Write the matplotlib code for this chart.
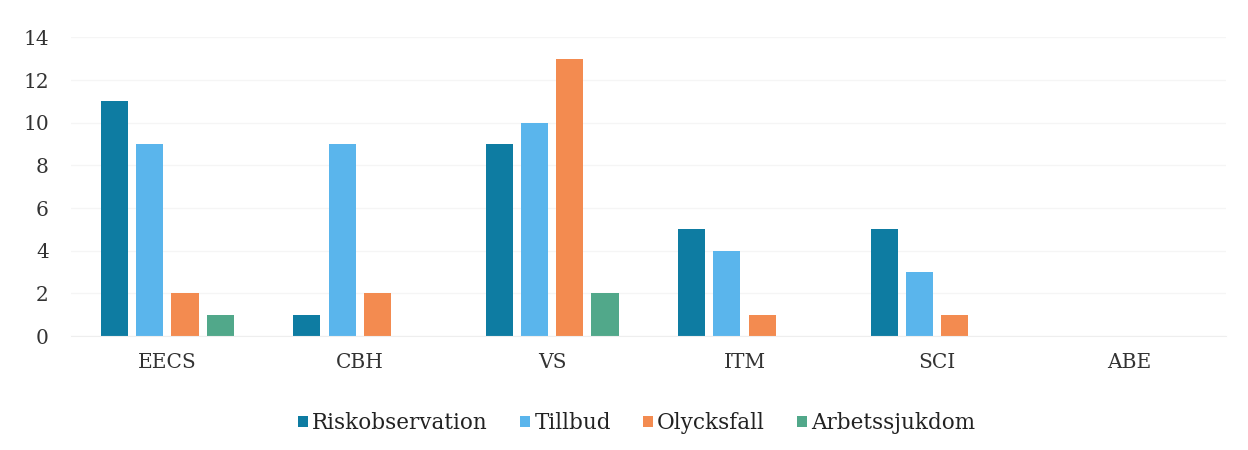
import numpy as np
import matplotlib.pyplot as plt

# Data
categories = ['EECS', 'CBH', 'VS', 'ITM', 'SCI', 'ABE']
riskobservation = [11, 1, 9, 5, 5, 0]
tillbud = [9, 9, 10, 4, 3, 0]
olycksfall = [2, 2, 13, 1, 1, 0]
arbetssjukdom = [1, 0, 2, 0, 0, 0]

series = [
    ('Riskobservation', riskobservation, '#0E7CA2'),
    ('Tillbud', tillbud, '#5AB5EC'),
    ('Olycksfall', olycksfall, '#F38B50'),
    ('Arbetssjukdom', arbetssjukdom, '#51A88A'),
]

plt.rcParams['font.family'] = ['DejaVu Serif']

fig = plt.figure(figsize=(12.48, 4.5), dpi=100)
ax = fig.add_axes([0.057, 0.253, 0.925, 0.664])

x = np.arange(len(categories))
step = 0.183
width = 0.141
for i, (name, vals, col) in enumerate(series):
    ax.bar(x + (i - 1.5) * step, vals, width, color=col, label=name, zorder=2)

ax.set_xlim(-0.5, len(categories) - 0.5)
ax.set_ylim(0, 14)
ax.set_yticks(range(0, 15, 2))
ax.set_xticks(x)
ax.set_xticklabels(categories)
ax.tick_params(axis='both', length=0, labelsize=14.5, colors='#333333')
ax.tick_params(axis='y', pad=16)
ax.tick_params(axis='x', pad=12)
ax.grid(axis='y', color='#F5F5F5', linewidth=1, zorder=0)
for s in ['top', 'right', 'left']:
    ax.spines[s].set_visible(False)
ax.spines['bottom'].set_color('#EEEEEE')

leg = ax.legend(loc='upper center', bbox_to_anchor=(0.49, -0.19), ncol=4,
                frameon=False, fontsize=15.5, handlelength=0.45, handleheight=0.45,
                handletextpad=0.2, columnspacing=1.5)
for t in leg.get_texts():
    t.set_color('#222222')

fig.savefig('out.png', dpi=100)
